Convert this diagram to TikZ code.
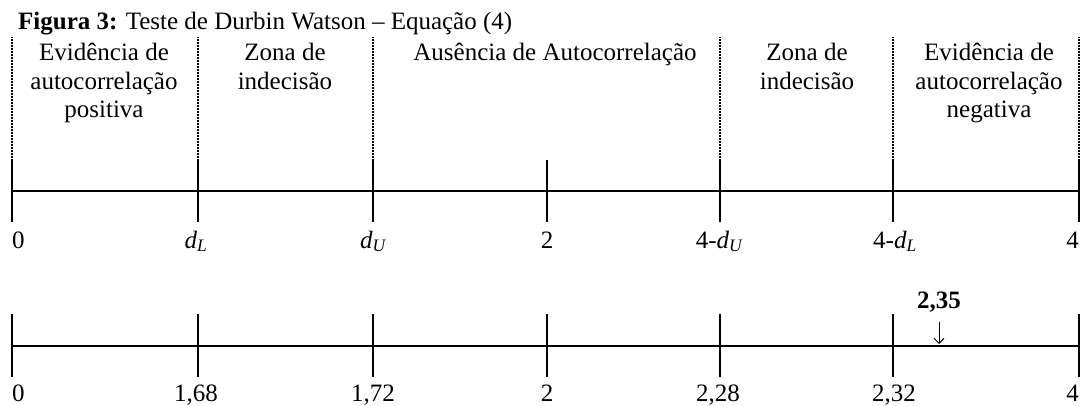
\documentclass[tikz,border=0pt]{standalone}
\usepackage{fontspec}
\setmainfont{Liberation Serif}
\usetikzlibrary{arrows.meta}
\newcommand{\dsub}[1]{{\itshape d}\textsubscript{\itshape #1}}
\begin{document}
\begin{tikzpicture}[x=1pt,y=-1pt,
  axisline/.style={line width=2.4pt},
  tickline/.style={line width=2.4pt},
  sepline/.style={line width=1.3pt, dash pattern=on 0.8pt off 0.7pt},
  txt/.style={inner sep=0pt, font=\fontsize{25}{28.5}\selectfont},
  zone/.style={txt, align=center, anchor=north},
  lab/.style={txt, anchor=base},
  ptr/.style={line width=1pt, -{Straight Barb[length=5pt,width=10pt]}}]
\useasboundingbox (0,0) rectangle (1082,405);

\foreach \n/\x in {a/12,b/198,c/373,d/547,e/720,f/893,g/1079}{
  \coordinate (S\n) at (\x,37);
  \coordinate (T\n) at (\x,160);
  \coordinate (M\n) at (\x,191);
  \coordinate (B\n) at (\x,222);
  \coordinate (t\n) at (\x,314);
  \coordinate (m\n) at (\x,346);
  \coordinate (b\n) at (\x,377);
}

% title
\node[txt, anchor=base west] (title) at (18,29) {\textbf{Figura 3:} Teste de Durbin Watson – Equação (4)};

% zone texts
\node[zone] (z1) at (104,43) {Evidência de\\autocorrelação\\positiva};
\node[zone] (z2) at (285,43) {Zona de\\indecisão};
\node[zone] (z3) at (555,43) {Ausência de Autocorrelação};
\node[zone] (z4) at (807,43) {Zona de\\indecisão};
\node[zone] (z5) at (989,43) {Evidência de\\autocorrelação\\negativa};

% separators
\foreach \n in {a,b,c,e,f,g} \draw[sepline] (S\n) -- (T\n);

% top axis
\draw[axisline] (Ma) -- (Mg);
\foreach \n in {a,b,c,d,e,f,g} \draw[tickline] (T\n) -- (B\n);

% bottom axis
\draw[axisline] (ma) -- (mg);
\foreach \n in {a,b,c,d,e,f,g} \draw[tickline] (t\n) -- (b\n);

% top labels
\node[lab, anchor=base west] (la) at (12,248) {0};
\node[lab] (lb) at (196,248) {\dsub{L}};
\node[lab] (lc) at (373,248) {\dsub{U}};
\node[lab] (ld) at (547,248) {2};
\node[lab] (le) at (719,248) {4-\dsub{U}};
\node[lab] (lf) at (895,248) {4-\dsub{L}};
\node[lab, anchor=base east] (lg) at (1079,248) {4};

% bottom labels
\node[lab, anchor=base west] (va) at (12,401) {0};
\node[lab] (vb) at (196,401) {1,68};
\node[lab] (vc) at (373,401) {1,72};
\node[lab] (vd) at (547,401) {2};
\node[lab] (ve) at (718,401) {2,28};
\node[lab] (vf) at (894,401) {2,32};
\node[lab, anchor=base east] (vg) at (1079,401) {4};

% test value
\node[lab, font=\fontsize{25}{28.5}\selectfont\bfseries] (dw) at (939,308) {2,35};
\coordinate (arrtip) at (939,344);
\draw[ptr] ([yshift=-14pt]dw.base) -- (arrtip);
\end{tikzpicture}
\end{document}
